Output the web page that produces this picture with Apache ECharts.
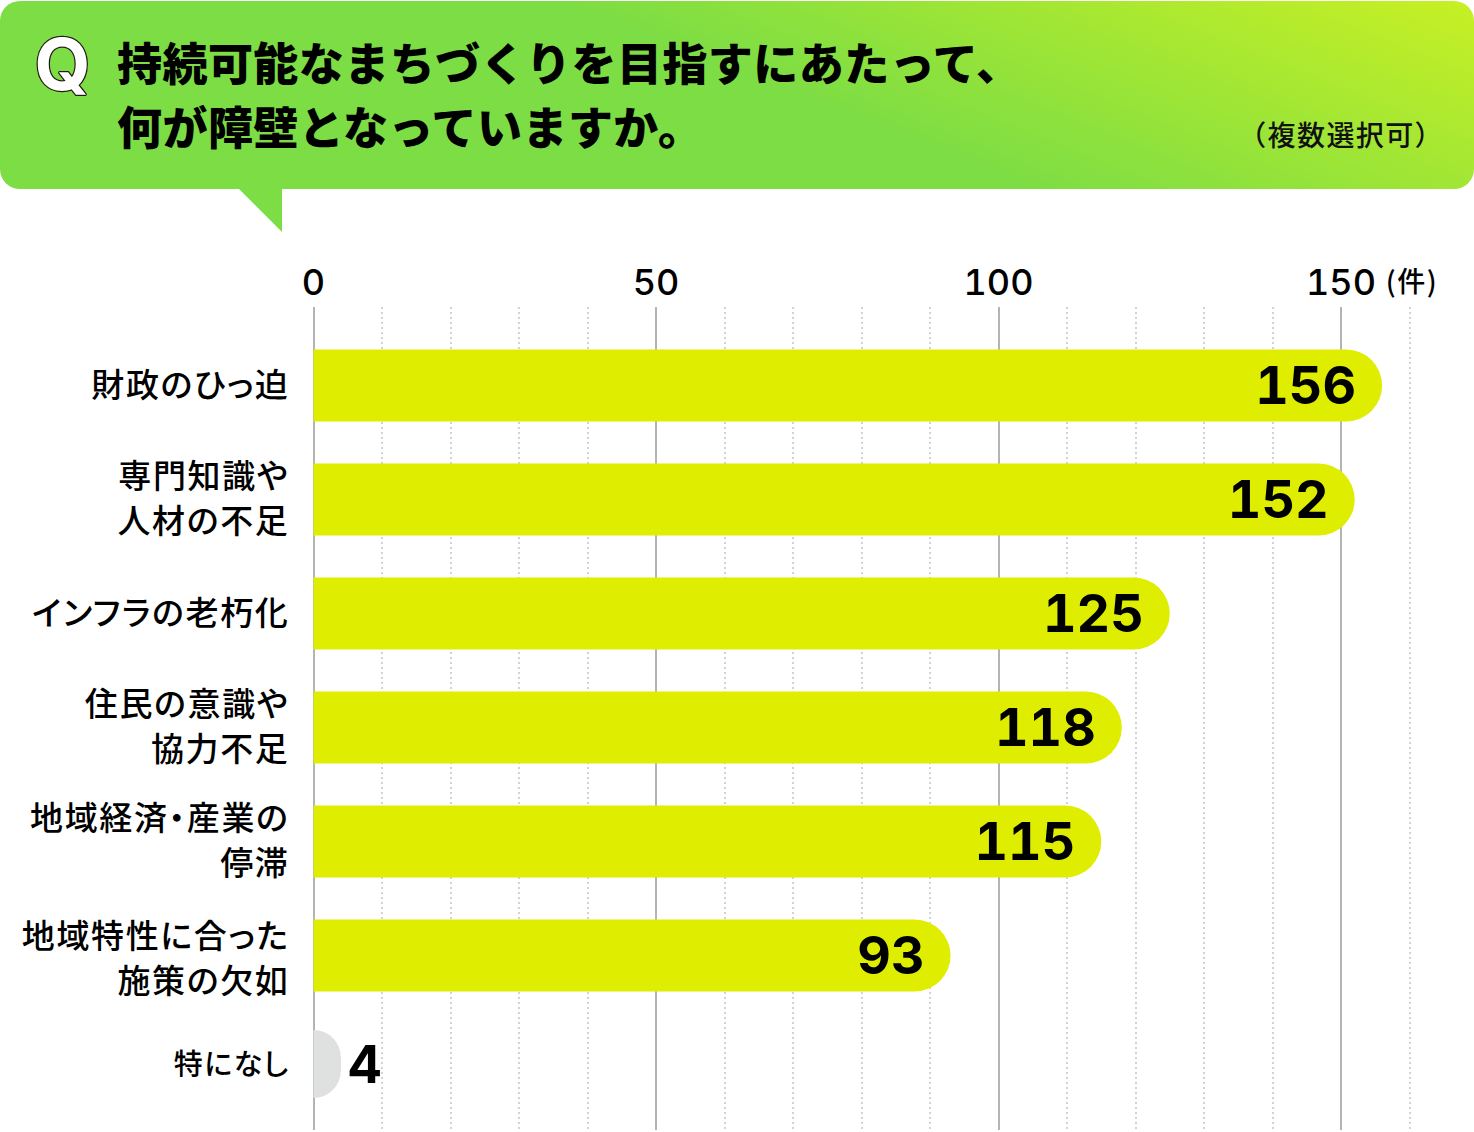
<!DOCTYPE html>
<html>
<head>
<meta charset="utf-8">
<title>chart</title>
<script src="https://cdn.jsdelivr.net/npm/echarts@6/dist/echarts.min.js"></script>
<style>
  html, body { margin: 0; padding: 0; background: #fff; }
  #chart { width: 1474px; height: 1132px; }
  #chart text { letter-spacing: 0.05em; font-feature-settings: "palt", "tnum"; }
  #chart text[style*="Inter"] { letter-spacing: 0; }
  #chart text[style*="900"] { letter-spacing: 0.01em; }
</style>
</head>
<body>
<div id="chart"></div>
<script>
const categories = ["財政のひっ迫", "専門知識や\n人材の不足", "インフラの老朽化", "住民の意識や\n協力不足", "地域経済・産業の\n停滞", "地域特性に合った\n施策の欠如"];
const values = [156, 152, 125, 118, 115, 93];
const otherCategories = ["特になし"];
const otherValues = [4];
const titleLines = "持続可能なまちづくりを目指すにあたって、\n何が障壁となっていますか。";
const noteText = "（複数選択可）";
const unitText = "(件)";

const jpFont = '"Noto Sans CJK JP", sans-serif';
const numFont = 'Inter, sans-serif';

const chart = echarts.init(document.getElementById("chart"), null, { renderer: "svg" });

// the label rows are not evenly spaced, so each run of them gets its own grid
function labelAxis(gridIndex, data, fontSize) {
  return {
    gridIndex: gridIndex, type: "category", inverse: true, data: data,
    axisLine: { show: false }, axisTick: { show: false },
    axisLabel: { margin: 24, color: "#000", fontFamily: jpFont, fontWeight: 500, fontSize: fontSize, lineHeight: 45, align: "right" },
  };
}

const option = {
  animation: false,
  backgroundColor: "#fff",
  grid: [
    // minor dotted lines, 0-160
    { left: 313.5, width: 1096, top: 307, height: 823 },
    // solid lines and tick labels, 0-150
    { left: 313.5, width: 1027.5, top: 307, height: 823 },
    // the six main bars
    { left: 313.5, width: 1096, top: 328.5, height: 684 },
    // 特になし sits a little closer
    { left: 313.5, width: 1096, top: 1007, height: 114 },
    // category labels
    { left: 313.5, width: 1096, top: 325.5, height: 570 },
    { left: 313.5, width: 1096, top: 899.5, height: 114 },
    { left: 313.5, width: 1096, top: 1005, height: 114 },
  ],
  xAxis: [
    {
      gridIndex: 0, type: "value", min: 0, max: 160, interval: 10,
      axisLine: { show: false }, axisTick: { show: false }, axisLabel: { show: false },
      splitLine: { show: true, lineStyle: { color: "#d2d2d2", width: 2, type: [2, 3] } },
    },
    {
      gridIndex: 1, type: "value", position: "top", min: 0, max: 150, interval: 50,
      axisLine: { show: false }, axisTick: { show: false },
      axisLabel: { show: true, margin: 7, color: "#000", fontFamily: numFont, fontWeight: 500, fontSize: 36 },
      splitLine: { show: true, lineStyle: { color: "#b4b4b4", width: 2 } },
    },
    { gridIndex: 2, type: "value", min: 0, max: 160, show: false },
    { gridIndex: 3, type: "value", min: 0, max: 160, show: false },
    { gridIndex: 4, type: "value", min: 0, max: 160, show: false },
    { gridIndex: 5, type: "value", min: 0, max: 160, show: false },
    { gridIndex: 6, type: "value", min: 0, max: 160, show: false },
  ],
  yAxis: [
    { gridIndex: 0, type: "value", show: false },
    { gridIndex: 1, type: "value", show: false },
    { gridIndex: 2, type: "category", inverse: true, data: categories, show: false },
    { gridIndex: 3, type: "category", inverse: true, data: otherCategories, show: false },
    labelAxis(4, categories.slice(0, 5), 33),
    labelAxis(5, categories.slice(5), 33),
    labelAxis(6, otherCategories, 29),
  ],
  series: [
    {
      name: "件数", type: "bar", xAxisIndex: 2, yAxisIndex: 2, data: values, barWidth: 72,
      itemStyle: { color: "#dfee00", borderRadius: [0, 36, 36, 0] },
      label: {
        show: true, position: "insideRight", distance: 26, color: "#000",
        fontFamily: numFont, fontWeight: 700, fontSize: 52,
      },
    },
    {
      name: "特になし", type: "bar", xAxisIndex: 3, yAxisIndex: 3, data: otherValues, barWidth: 68,
      itemStyle: { color: "#dfe1e1", borderRadius: [0, 34, 34, 0] },
      label: {
        show: true, position: "right", distance: 7, color: "#000",
        fontFamily: numFont, fontWeight: 700, fontSize: 52,
      },
    },
  ],
  graphic: [
    {
      type: "rect", z: 1,
      shape: { x: 0, y: 1, width: 1474, height: 188, r: 20 },
      style: {
        fill: new echarts.graphic.LinearGradient(560, 0, 687, -316, [
          { offset: 0, color: "#7ddd44" },
          { offset: 1, color: "#c8f024" },
        ], true),
      },
    },
    {
      type: "polygon", z: 1,
      shape: { points: [[238, 188], [282, 188], [282, 232]] },
      style: { fill: "#7ddd44" },
    },
    {
      type: "text", z: 2, x: 62.5, y: 63,
      style: {
        text: "Q", fill: "#fff", stroke: "#231815", lineWidth: 2.5,
        font: "700 72px " + numFont, align: "center", verticalAlign: "middle",
      },
    },
    {
      type: "text", z: 2, x: 117, y: 29,
      style: {
        text: titleLines, fill: "#000", font: "900 45px " + jpFont, lineHeight: 64,
        align: "left", verticalAlign: "top",
      },
    },
    {
      type: "text", z: 2, x: 1444, y: 134,
      style: {
        text: noteText, fill: "#111", font: "500 28px " + jpFont,
        align: "right", verticalAlign: "middle",
      },
    },
    {
      type: "text", z: 2, x: 1438, y: 280,
      style: {
        text: unitText, fill: "#000", font: "500 28px " + jpFont,
        align: "right", verticalAlign: "middle",
      },
    },
  ],
};

chart.setOption(option);
</script>
</body>
</html>
